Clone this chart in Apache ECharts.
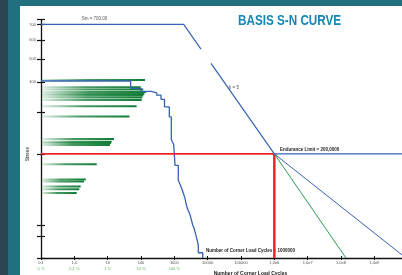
<!DOCTYPE html>
<html>
<head>
<meta charset="utf-8">
<script src="https://cdn.jsdelivr.net/npm/echarts@6/dist/echarts.min.js"></script>
<style>
  body { margin: 0; background: #22707d; overflow: hidden; }
  #strip { position: absolute; left: 0; top: 0; width: 8px; height: 275px; background: #2d4752; }
  #panel { position: absolute; left: 20px; top: 6px; width: 382px; height: 269px; background: #fff; }
  #chart { position: absolute; left: 0; top: 0; width: 402px; height: 275px; }
</style>
</head>
<body>
<div id="strip"></div>
<div id="panel"></div>
<div id="chart"></div>
<script>
// x axis: number of load cycles (log), y axis: stress (log)
var cycleTicks = [0.1, 1, 10, 100, 1000, 1e4, 1e5, 1e6, 1e7, 1e8, 1e9];
var cycleLabels = ['0,1', '1,0', '10', '100', '1000', '10000', '100000', '1,0e6', '1,0e7', '1,0e8', '1,0e9'];
var shareLabels = ['0 %', '0,1 %', '1 %', '10 %', '100 %'];
var stressTicks = [733, 700, 600, 500, 400, 300, 200, 100, 90, 73];
var stressLabels = [700, 600, 500, 400];

// load spectrum (cumulative, stepped)
var spectrumCycles = [0.1, 49, 100, 200, 296, 398, 507, 706, 811, 869, 957, 1047, 1315, 1479, 1698, 1884, 2089, 2239, 2449, 2754, 2951, 3273, 3556, 3890, 4169, 4688, 5236, 5236, 7096];
var spectrumStress = [405, 377, 366, 361, 353, 339, 315, 286, 230, 225, 219, 179, 155, 149, 142, 136, 130, 124, 118, 114, 111, 105, 100.5, 97.6, 94.2, 88.3, 82.8, 76.8, 73];

// share of cycles per stress level (green bars)
var barCycles = [132, 98, 117, 141, 126, 117, 109, 105, 74, 45, 15.5, 13.2, 12.6, 11.7, 4.7, 2.2, 1.95, 1.55, 1.41, 1.18];
var barStress = [409, 381, 373, 364, 357, 352, 345, 337, 317, 287, 231, 225, 222, 218, 181, 156, 153, 146, 142, 137];

// S-N curve breakpoints
var snUpperCycles = [0.1, 1904, 6300];
var snUpperStress = [700, 700, 551];
var snLowerCycles = [12600, 1e6, 1e10];
var snLowerStress = [480, 200, 200];
var k9Cycles = [1e6, 1e10];
var k9Stress = [200, 72];
var k5Cycles = [1e6, 1.41e8];
var k5Stress = [200, 73];
var enduranceCycles = [0.1, 1e6];
var enduranceStress = [200, 200];
var designCycles = [1e6, 1e6];
var designStress = [200, 73];

function pairs(xs, ys) {
  return xs.map(function (x, i) { return [x, ys[i]]; });
}

var blue = '#3563b3';
var red = '#e8262a';
var font = 'Liberation Sans';

var chart = echarts.init(document.getElementById('chart'), null, { renderer: 'canvas' });

var xBase = {
  type: 'log', logBase: 10, min: 0.1, max: 1e10,
  splitLine: { show: false }
};
var yBase = {
  type: 'log', logBase: 10, min: 73, max: 733,
  splitLine: { show: false }
};

var option = {
  animation: false,
  grid: { left: 41, right: -5.67, top: 19.7, bottom: 17, outerBoundsMode: 'none', containLabel: false },
  xAxis: [
    Object.assign({}, xBase, {
      position: 'bottom',
      axisLine: { lineStyle: { color: '#111', width: 1.3 } },
      axisTick: { customValues: cycleTicks, length: 2, lineStyle: { color: '#111', width: 1 } },
      axisLabel: {
        customValues: cycleTicks, margin: 1.5, fontSize: 4, fontFamily: font, color: '#666', lineHeight: 6,
        formatter: function (v) {
          var i = Math.round(Math.log10(v)) + 1;
          var s = '{a|' + cycleLabels[i] + '}';
          if (i < shareLabels.length) s += '\n{b|' + shareLabels[i] + '}';
          else s += '\n{b| }';
          return s;
        },
        rich: {
          a: { fontSize: 4, fontFamily: font, color: '#555', lineHeight: 6 },
          b: { fontSize: 4, fontFamily: font, color: '#5cb85c', lineHeight: 6 }
        }
      }
    }),
    Object.assign({}, xBase, {
      position: 'bottom',
      axisLine: { show: false },
      axisTick: { customValues: cycleTicks, inside: true, length: 2, lineStyle: { color: '#111', width: 1 } },
      axisLabel: { show: false }
    })
  ],
  yAxis: [
    Object.assign({}, yBase, {
      position: 'left',
      axisLine: { lineStyle: { color: '#111', width: 1.3 } },
      axisTick: { customValues: stressTicks, length: 4, lineStyle: { color: '#111', width: 1.2 } },
      axisLabel: { customValues: stressLabels, margin: 5, fontSize: 4, fontFamily: font, color: '#555' }
    }),
    Object.assign({}, yBase, {
      position: 'left',
      axisLine: { show: false },
      axisTick: { customValues: stressTicks, inside: true, length: 4, lineStyle: { color: '#111', width: 1.2 } },
      axisLabel: { show: false }
    })
  ],
  series: [
    {
      type: 'custom',
      name: 'share',
      data: pairs(barCycles, barStress),
      encode: { x: 0, y: 1 },
      z: 1,
      renderItem: function (params, api) {
        var s = api.coord([0.1, api.value(1)]);
        var e = api.coord([api.value(0), api.value(1)]);
        return {
          type: 'rect',
          shape: { x: s[0], y: s[1] - 1, width: e[0] - s[0], height: 2 },
          style: {
            fill: new echarts.graphic.LinearGradient(0, 0, 1, 0, [
              { offset: 0, color: 'rgba(22,128,58,0.12)' },
              { offset: 0.45, color: 'rgba(22,128,58,0.8)' },
              { offset: 1, color: '#127d37' }
            ])
          }
        };
      }
    },
    {
      type: 'line', name: 'spectrum', step: 'end', symbol: 'none', z: 3,
      data: pairs(spectrumCycles, spectrumStress),
      lineStyle: { color: blue, width: 1.3 }
    },
    {
      type: 'line', name: 'endurance', symbol: 'none', z: 4,
      data: pairs(enduranceCycles, enduranceStress),
      lineStyle: { color: red, width: 1.6 }
    },
    {
      type: 'line', name: 'design cycles', symbol: 'none', z: 4,
      data: pairs(designCycles, designStress),
      lineStyle: { color: red, width: 2.5 }
    },
    {
      type: 'line', name: 'k9', symbol: 'none', z: 5,
      data: pairs(k9Cycles, k9Stress),
      lineStyle: { color: blue, width: 1 }
    },
    {
      type: 'line', name: 'k5', symbol: 'none', z: 5,
      data: pairs(k5Cycles, k5Stress),
      lineStyle: { color: '#2e9a55', width: 1 }
    },
    {
      type: 'line', name: 'sn upper', symbol: 'none', z: 6,
      data: pairs(snUpperCycles, snUpperStress),
      lineStyle: { color: blue, width: 1.2 }
    },
    {
      type: 'line', name: 'sn lower', symbol: 'none', z: 6,
      data: pairs(snLowerCycles, snLowerStress),
      lineStyle: { color: blue, width: 1.2 }
    }
  ],
  graphic: [
    { type: 'text', x: 238, y: 13, scaleX: 0.76,
      style: { text: 'BASIS S-N CURVE', fontSize: 15.4, fontWeight: 'bold', fontFamily: font, fill: '#1785b5' } },
    { type: 'text', x: 94.5, y: 18.3,
      style: { text: 'Sm = 700,00', fontSize: 4.5, fontFamily: font, fill: '#555', align: 'center', verticalAlign: 'middle' } },
    { type: 'text', x: 229, y: 87.3,
      style: { text: 'k = 5', fontSize: 4.5, fontFamily: font, fill: '#555', verticalAlign: 'middle' } },
    { type: 'text', x: 280, y: 149.3,
      style: { text: 'Endurance Limit = 200,0000', fontSize: 4.5, fontWeight: 'bold', fontFamily: font, fill: '#222', verticalAlign: 'middle' } },
    { type: 'text', x: 206, y: 251,
      style: { text: 'Number of Corner Load Cycles = 1000000', fontSize: 4.5, fontWeight: 'bold', fontFamily: font, fill: '#222', verticalAlign: 'middle' } },
    { type: 'text', x: 250.5, y: 273.5,
      style: { text: 'Number of Corner Load Cycles', fontSize: 5, fontWeight: 'bold', fontFamily: font, fill: '#222', align: 'center', verticalAlign: 'middle' } },
    { type: 'text', x: 28, y: 154, rotation: Math.PI / 2,
      style: { text: 'Stress', fontSize: 4.5, fontWeight: 'bold', fontFamily: font, fill: '#555', align: 'center', verticalAlign: 'middle' } }
  ]
};

chart.setOption(option);
</script>
</body>
</html>
